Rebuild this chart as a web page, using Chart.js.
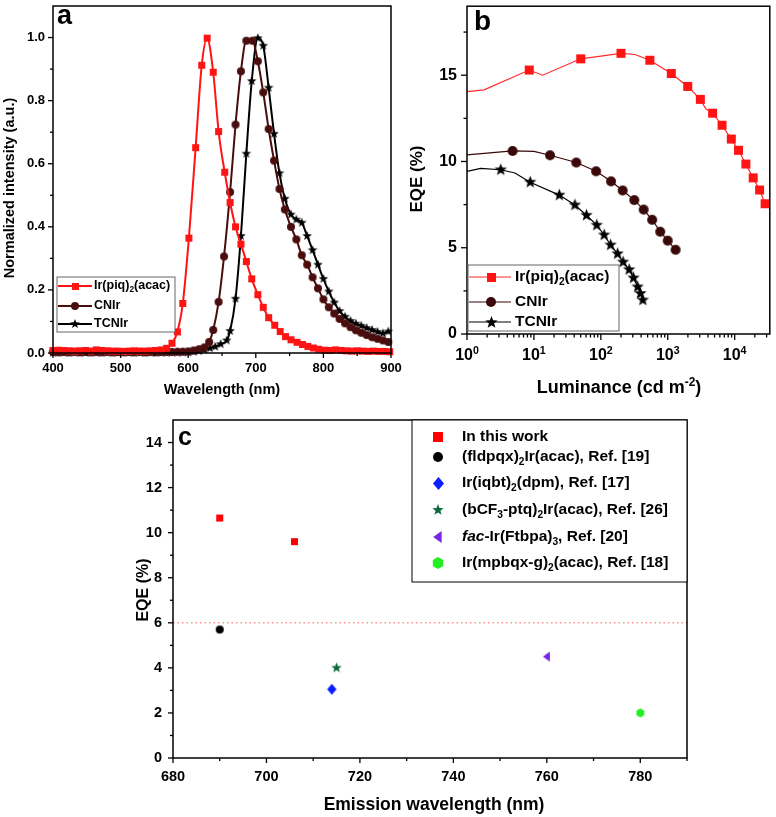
<!DOCTYPE html>
<html>
<head>
<meta charset="utf-8">
<script src="https://cdn.jsdelivr.net/npm/chart.js@4.4.1/dist/chart.umd.min.js"></script>
<style>
  html, body { margin: 0; padding: 0; background: #fff; }
  #wrap { position: relative; width: 776px; height: 817px; overflow: hidden; }
  canvas { position: absolute; }
</style>
</head>
<body>
<div id="wrap">
  <canvas id="chartA" style="left:0px;top:0px" width="410" height="410"></canvas>
  <canvas id="chartB" style="left:395px;top:0px" width="381" height="410"></canvas>
  <canvas id="chartC" style="left:130px;top:410px" width="646" height="407"></canvas>
</div>
<script>
// ---- panel a: normalized EL spectra ----
const piqWl = [400,408,416,424,432,440,448,456,464,472,480,488,496,504,512,520,528,536,544,552,560,568,576,584,592,
  601,611,620,628,637,645,654,662,670,678,686,694,703,711,719,728,736,744,752,761,769,777,785,793,802,810,818,826,834,842,850,858,866,874,882,890,898];
const piqInt = [0.008,0.009,0.008,0.007,0.006,0.007,0.008,0.006,0.010,0.008,0.007,0.006,0.006,0.005,0.006,0.007,0.006,0.006,0.007,0.008,0.010,0.015,0.031,0.067,0.157,
  0.364,0.651,0.912,0.998,0.890,0.702,0.573,0.477,0.400,0.345,0.290,0.235,0.185,0.145,0.112,0.088,0.068,0.052,0.042,0.034,0.027,0.021,0.016,0.012,0.009,0.008,0.010,0.008,0.007,0.006,0.007,0.006,0.005,0.006,0.005,0.005,0.004];

const cnWl = [400,408,416,424,432,440,448,456,464,472,480,488,496,504,512,520,528,536,544,552,560,568,576,584,592,600,
  608,616,624,631,637,645,653,662,670,678,686,695,703,711,719,727,735,743,752,760,768,776,784,792,800,808,816,824,832,840,848,856,864,872,880,888,896];
const cnInt = [0.003,0.002,0.003,0.002,0.003,0.002,0.003,0.002,0.003,0.002,0.003,0.002,0.003,0.002,0.003,0.002,0.003,0.002,0.003,0.002,0.003,0.003,0.003,0.004,0.004,0.005,
  0.008,0.012,0.018,0.035,0.073,0.162,0.306,0.510,0.724,0.893,0.990,0.990,0.925,0.826,0.710,0.610,0.520,0.455,0.400,0.360,0.310,0.280,0.240,0.205,0.170,0.145,0.125,0.108,0.094,0.082,0.072,0.064,0.057,0.050,0.045,0.040,0.035];

const tcnWl = [400,408,416,424,432,440,448,456,464,472,480,488,496,504,512,520,528,536,544,552,560,568,576,584,592,600,608,616,624,632,
  640,648,657,662,670,678,686,694,703,711,719,727,735,743,752,760,768,776,784,792,800,808,816,824,832,840,848,856,864,872,880,888,896];
const tcnInt = [0.001,0.002,0.001,0.001,0.002,0.001,0.001,0.002,0.001,0.001,0.002,0.001,0.001,0.002,0.001,0.001,0.002,0.001,0.001,0.002,0.001,0.001,0.002,0.001,0.002,0.002,0.004,0.006,0.010,0.015,
  0.020,0.028,0.040,0.070,0.172,0.371,0.632,0.862,0.998,0.974,0.841,0.695,0.570,0.489,0.439,0.423,0.413,0.371,0.326,0.280,0.235,0.195,0.160,0.133,0.115,0.102,0.093,0.086,0.079,0.073,0.067,0.062,0.068];

const aTicksX = [400,500,600,700,800,900];
const aMinorX = [450,550,650,750,850];
const aTicksY = [0,0.2,0.4,0.6,0.8,1.0];
const aMinorY = [0.1,0.3,0.5,0.7,0.9];

// ---- panel b: EQE vs luminance ----
const piqLum = [1,1.8,8.5,13.5,50,200,325,540,1130,1990,3070,3700,4680,6470,8900,11400,14700,18900,23600,28500];
const piqEqe = [14.05,14.15,15.3,15.0,15.95,16.27,16.2,15.87,15.1,14.35,13.6,13.05,12.8,12.1,11.3,10.65,9.85,9.05,8.35,7.55];
const piqBare = [0,1,3,6,11];
const cnLum = [1,4.8,10,17.4,43,85,142,212,316,436,585,772,1000,1310];
const cnEqe = [10.38,10.61,10.58,10.36,9.94,9.43,8.85,8.32,7.76,7.21,6.62,5.93,5.41,4.88];
const cnBare = [0,2];
const tcnLum = [1,1.6,3.2,5.2,8.8,24,41,61,87,112,140,178,215,265,308,355,390,424];
const tcnEqe = [9.43,9.6,9.52,9.33,8.8,8.05,7.48,6.88,6.31,5.74,5.16,4.65,4.17,3.73,3.25,2.73,2.35,1.97];
const tcnBare = [0,1,3];

const bTicksX = [1,10,100,1000,10000];
const bTickText = ['10^{0}','10^{1}','10^{2}','10^{3}','10^{4}'];
const bTicksY = [0,5,10,15];
const bMinorY = [2.5,7.5,12.5,17.5];

// ---- panel c: EQE vs emission wavelength ----
const workWl = [690,706];      const workEqe = [10.65,9.6];
const fldWl = [690];           const fldEqe = [5.7];
const iqbtWl = [714];          const iqbtEqe = [3.05];
const bcfWl = [715];           const bcfEqe = [4.0];
const facWl = [760];           const facEqe = [4.5];
const mpbWl = [780];           const mpbEqe = [2.0];
const cLimit = 6;

const cTicksX = [680,700,720,740,760,780];
const cMinorX = [690,710,730,750,770,790];
const cTicksY = [0,2,4,6,8,10,12,14];
const cMinorY = [1,3,5,7,9,11,13];

const cNames = ['In this work','(fldpqx)_{2}Ir(acac), Ref. [19]','Ir(iqbt)_{2}(dpm), Ref. [17]',
  '(bCF_{3}-ptq)_{2}Ir(acac), Ref. [26]','*fac*-Ir(Ftbpa)_{3}, Ref. [20]','Ir(mpbqx-g)_{2}(acac), Ref. [18]'];

// ---------------------------------------------------------------
const FONT = '"Liberation Sans", Arial, Helvetica, sans-serif';
const RED = '#ff1414';
const BROWN = '#4a0d0d';

const pts = (xs, ys) => xs.map((x, i) => ({ x: x, y: ys[i] }));

// filled marker shapes drawn once on small canvases, used as pointStyle
function marker(shape, size, fill) {
  const s = Math.ceil(size) + 4;
  const c = document.createElement('canvas');
  c.width = s; c.height = s;
  const g = c.getContext('2d');
  const m = s / 2, r = size / 2;
  g.fillStyle = fill;
  g.beginPath();
  if (shape === 'square') {
    g.rect(m - r, m - r, size, size);
  } else if (shape === 'circle') {
    g.arc(m, m, r, 0, Math.PI * 2);
  } else if (shape === 'diamond') {
    g.moveTo(m, m - r); g.lineTo(m + r * 0.85, m); g.lineTo(m, m + r); g.lineTo(m - r * 0.85, m);
  } else if (shape === 'star') {
    for (let i = 0; i < 10; i++) {
      const ang = -Math.PI / 2 + i * Math.PI / 5;
      const rr = i % 2 ? r * 0.42 : r;
      g.lineTo(m + rr * Math.cos(ang), m + rr * Math.sin(ang));
    }
  } else if (shape === 'left') {
    g.moveTo(m - r * 0.8, m); g.lineTo(m + r * 0.6, m - r); g.lineTo(m + r * 0.6, m + r);
  } else if (shape === 'hex') {
    for (let i = 0; i < 6; i++) {
      const ang = -Math.PI / 2 + i * Math.PI / 3;
      g.lineTo(m + r * Math.cos(ang), m + r * Math.sin(ang));
    }
  }
  g.closePath();
  g.fill();
  return c;
}

// text with _{sub}, ^{sup} and *italic* pieces
function parseRich(s) {
  const out = [];
  let buf = '', it = false, i = 0;
  const push = (t, k) => { if (t) out.push({ t: t, k: k, it: it }); };
  while (i < s.length) {
    const ch = s[i];
    if ((ch === '_' || ch === '^') && s[i + 1] === '{') {
      push(buf, 'n'); buf = '';
      const j = s.indexOf('}', i);
      push(s.slice(i + 2, j), ch === '_' ? 'sub' : 'sup');
      i = j + 1;
    } else if (ch === '*') {
      push(buf, 'n'); buf = ''; it = !it; i++;
    } else {
      buf += ch; i++;
    }
  }
  push(buf, 'n');
  return out;
}

function richText(ctx, s, x, y, size, align, rot) {
  const segs = parseRich(s);
  const fontOf = sg => (sg.it ? 'italic ' : '') + 'bold ' + (sg.k === 'n' ? size : size * 0.66).toFixed(1) + 'px ' + FONT;
  let w = 0;
  segs.forEach(sg => { ctx.font = fontOf(sg); sg.w = ctx.measureText(sg.t).width; w += sg.w; });
  ctx.save();
  ctx.translate(x, y);
  if (rot) ctx.rotate(rot);
  let cx = align === 'center' ? -w / 2 : align === 'right' ? -w : 0;
  ctx.textAlign = 'left';
  ctx.textBaseline = 'middle';
  segs.forEach(sg => {
    ctx.font = fontOf(sg);
    const dy = sg.k === 'sub' ? size * 0.32 : sg.k === 'sup' ? -size * 0.32 : 0;
    ctx.fillText(sg.t, cx, dy);
    cx += sg.w;
  });
  ctx.restore();
}

function seg(ctx, x0, y0, x1, y1) {
  ctx.beginPath(); ctx.moveTo(x0, y0); ctx.lineTo(x1, y1); ctx.stroke();
}

// axes frame, ticks, labels, titles and legend, using the chart's own scales
function deco(cfg) {
  return {
    id: 'deco',
    afterDraw(chart) {
      const ctx = chart.ctx, a = chart.chartArea;
      const xs = chart.scales.x, ys = chart.scales.y;
      ctx.save();
      ctx.strokeStyle = '#000';
      ctx.fillStyle = '#000';
      ctx.lineWidth = 1.5;
      ctx.strokeRect(a.left, a.top, a.right - a.left, a.bottom - a.top);

      ctx.lineWidth = 1.3;
      cfg.xTicks.forEach(v => { const p = xs.getPixelForValue(v); seg(ctx, p, a.bottom, p, a.bottom + cfg.major); });
      cfg.xMinor.forEach(v => { const p = xs.getPixelForValue(v); seg(ctx, p, a.bottom, p, a.bottom + cfg.minor); });
      cfg.yTicks.forEach(v => { const p = ys.getPixelForValue(v); seg(ctx, a.left - cfg.major, p, a.left, p); });
      cfg.yMinor.forEach(v => { const p = ys.getPixelForValue(v); seg(ctx, a.left - cfg.minor, p, a.left, p); });

      cfg.xTicks.forEach((v, i) => {
        richText(ctx, cfg.xText(v, i), xs.getPixelForValue(v), a.bottom + cfg.xLabDy, cfg.tickSize, 'center');
      });
      cfg.yTicks.forEach((v, i) => {
        richText(ctx, cfg.yText(v, i), a.left - cfg.yLabDx, ys.getPixelForValue(v), cfg.tickSize, 'right');
      });

      // absolute page coordinates from here on
      ctx.translate(-cfg.ox, -cfg.oy);
      const t = cfg.xTitle, u = cfg.yTitle, l = cfg.letter;
      richText(ctx, t.text, t.x, t.y, t.size, 'center');
      richText(ctx, u.text, u.x, u.y, u.size, 'center', -Math.PI / 2);
      ctx.font = 'bold ' + l.size + 'px ' + FONT;
      ctx.textAlign = 'left'; ctx.textBaseline = 'alphabetic';
      ctx.fillText(l.text, l.x, l.y);

      const L = cfg.legend;
      ctx.fillStyle = '#fff';
      ctx.fillRect(L.box[0], L.box[1], L.box[2], L.box[3]);
      ctx.strokeStyle = L.boxColor;
      ctx.lineWidth = 1;
      ctx.strokeRect(L.box[0], L.box[1], L.box[2], L.box[3]);
      L.items.forEach((it, i) => {
        const y = L.rows[i];
        if (it.line) {
          ctx.strokeStyle = it.color;
          ctx.lineWidth = it.lw;
          seg(ctx, L.lineX[0], y, L.lineX[1], y);
        }
        ctx.drawImage(it.mark, Math.round(L.markX - it.mark.width / 2), Math.round(y - it.mark.height / 2));
        ctx.fillStyle = '#000';
        richText(ctx, it.label, L.textX, y, L.size, 'left');
      });
      ctx.restore();
    }
  };
}

function baseOptions(pad, xOpt, yOpt) {
  return {
    responsive: false,
    animation: false,
    events: [],
    layout: { padding: pad },
    plugins: { legend: { display: false }, tooltip: { enabled: false } },
    scales: {
      x: Object.assign({ display: false }, xOpt),
      y: Object.assign({ display: false }, yOpt)
    }
  };
}

// ---------------- panel a ----------------
const mA = { sq: marker('square', 7, RED), ci: marker('circle', 8, BROWN), st: marker('star', 10, '#000') };
new Chart(document.getElementById('chartA'), {
  type: 'line',
  data: {
    datasets: [
      { data: pts(piqWl, piqInt), borderColor: RED, borderWidth: 2, pointStyle: mA.sq, pointRadius: 4, cubicInterpolationMode: 'monotone', clip: false },
      { data: pts(cnWl, cnInt), borderColor: BROWN, borderWidth: 2, pointStyle: mA.ci, pointRadius: 4, cubicInterpolationMode: 'monotone', clip: false },
      { data: pts(tcnWl, tcnInt), borderColor: '#000', borderWidth: 2, pointStyle: mA.st, pointRadius: 4, cubicInterpolationMode: 'monotone', clip: false }
    ]
  },
  options: baseOptions({ left: 53, top: 3, right: 19, bottom: 57 },
    { type: 'linear', min: 400, max: 900 }, { type: 'linear', min: 0, max: 1.1 }),
  plugins: [deco({
    ox: 0, oy: 0, major: 5, minor: 3, tickSize: 13, xLabDy: 15.5, yLabDx: 8,
    xTicks: aTicksX, xMinor: aMinorX, yTicks: aTicksY, yMinor: aMinorY,
    xText: v => String(v), yText: v => v.toFixed(1),
    xTitle: { text: 'Wavelength (nm)', x: 222, y: 390, size: 14.5 },
    yTitle: { text: 'Normalized intensity (a.u.)', x: 10, y: 188, size: 14.5 },
    letter: { text: 'a', x: 57, y: 24, size: 27 },
    legend: {
      box: [57, 277, 118, 55], boxColor: '#666', lineX: [58, 92], markX: 75, textX: 94, rows: [286, 306, 324], size: 12.5,
      items: [
        { label: 'Ir(piq)_{2}(acac)', color: RED, lw: 2, mark: mA.sq, line: true },
        { label: 'CNIr', color: BROWN, lw: 2, mark: mA.ci, line: true },
        { label: 'TCNIr', color: '#000', lw: 2, mark: mA.st, line: true }
      ]
    }
  })]
});

// ---------------- panel b ----------------
const mB = { sq: marker('square', 9, RED), ci: marker('circle', 10, '#3a0808'), st: marker('star', 13, '#000') };
const bareRadius = bare => c => (bare.includes(c.dataIndex) ? 0 : 5);
new Chart(document.getElementById('chartB'), {
  type: 'line',
  data: {
    datasets: [
      { data: pts(piqLum, piqEqe), borderColor: '#ff2a2a', borderWidth: 1.2, pointStyle: mB.sq, pointRadius: bareRadius(piqBare), tension: 0 },
      { data: pts(cnLum, cnEqe), borderColor: '#3a0808', borderWidth: 1.2, pointStyle: mB.ci, pointRadius: bareRadius(cnBare), tension: 0 },
      { data: pts(tcnLum, tcnEqe), borderColor: '#000', borderWidth: 1.2, pointStyle: mB.st, pointRadius: bareRadius(tcnBare), tension: 0 }
    ]
  },
  options: baseOptions({ left: 72, top: 3, right: 3, bottom: 76 },
    { type: 'logarithmic', min: 1, max: 33500 }, { type: 'linear', min: 0, max: 19 }),
  plugins: [deco({
    ox: 395, oy: 0, major: 6, minor: 3.5, tickSize: 16, xLabDy: 22, yLabDx: 10,
    xTicks: bTicksX, xMinor: (() => { const m = []; bTicksX.forEach(d => { for (let k = 2; k <= 9; k++) if (d * k < 33500) m.push(d * k); }); return m; })(),
    yTicks: bTicksY, yMinor: bMinorY,
    xText: (v, i) => bTickText[i], yText: v => String(v),
    xTitle: { text: 'Luminance (cd m^{-2})', x: 619, y: 388, size: 18 },
    yTitle: { text: 'EQE (%)', x: 417, y: 179, size: 17 },
    letter: { text: 'b', x: 474, y: 30, size: 28 },
    legend: {
      box: [468, 265, 151, 66], boxColor: '#666', lineX: [469, 511], markX: 491, textX: 515, rows: [277, 302, 322], size: 15.5,
      items: [
        { label: 'Ir(piq)_{2}(acac)', color: '#ff2a2a', lw: 1.2, mark: mB.sq, line: true },
        { label: 'CNIr', color: '#3a0808', lw: 1.2, mark: mB.ci, line: true },
        { label: 'TCNIr', color: '#000', lw: 1.2, mark: mB.st, line: true }
      ]
    }
  })]
});

// ---------------- panel c ----------------
const cCol = ['#ff0000', '#000000', '#0a1eff', '#0b6b3a', '#7a22e8', '#22ee22'];
const cShape = ['square', 'circle', 'diamond', 'star', 'left', 'hex'];
const cSize = [7, 8, 11, 11, 10, 9];
const cLegSize = [10, 10, 13, 12, 12, 12];
const mC = cShape.map((s, i) => marker(s, cSize[i], cCol[i]));
const mCL = cShape.map((s, i) => marker(s, cLegSize[i], cCol[i]));
const cSeries = [[workWl, workEqe], [fldWl, fldEqe], [iqbtWl, iqbtEqe], [bcfWl, bcfEqe], [facWl, facEqe], [mpbWl, mpbEqe]];
new Chart(document.getElementById('chartC'), {
  type: 'scatter',
  data: {
    datasets: cSeries.map((s, i) => ({ data: pts(s[0], s[1]), pointStyle: mC[i], pointRadius: 5, showLine: false }))
      .concat([{ data: pts([680, 790], [cLimit, cLimit]), showLine: true, borderColor: '#ff5a5a', borderWidth: 1, borderDash: [1.5, 3], pointRadius: 0 }])
  },
  options: baseOptions({ left: 43, top: 10, right: 89, bottom: 59 },
    { type: 'linear', min: 680, max: 790 }, { type: 'linear', min: 0, max: 15 }),
  plugins: [deco({
    ox: 130, oy: 410, major: 5, minor: 3, tickSize: 14.5, xLabDy: 19, yLabDx: 11,
    xTicks: cTicksX, xMinor: cMinorX, yTicks: cTicksY, yMinor: cMinorY,
    xText: v => String(v), yText: v => String(v),
    xTitle: { text: 'Emission wavelength (nm)', x: 434, y: 805, size: 17.5 },
    yTitle: { text: 'EQE (%)', x: 144, y: 590, size: 16 },
    letter: { text: 'c', x: 178, y: 445, size: 25 },
    legend: {
      box: [412, 420, 275, 162], boxColor: '#000', lineX: [0, 0], markX: 438, textX: 462,
      rows: [437, 457, 483, 510, 537, 563], size: 15.5,
      items: cNames.map((n, i) => ({ label: n, mark: mCL[i], line: false }))
    }
  })]
});
</script>
</body>
</html>
